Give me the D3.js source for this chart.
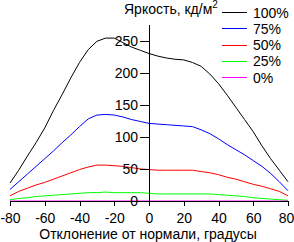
<!DOCTYPE html>
<html>
<head>
<meta charset="utf-8">
<script src="https://cdn.jsdelivr.net/npm/d3@7"></script>
<style>
  body { margin: 0; background: #fff; }
  text { font-family: "Liberation Sans", Arial, sans-serif; }
</style>
</head>
<body>
<div id="chart"></div>
<script>
var svgWidth = 294;
var svgHeight = 242;

// viewing angle, degrees
var angles = [-80, -75, -70, -65, -60, -55, -50, -45, -40, -35, -30, -25, -20, -15, -10, -5,
  0, 5, 10, 15, 20, 25, 30, 35, 40, 45, 50, 55, 60, 65, 70, 75, 80];

// brightness, cd/m2, per level
var b100 = [28, 48, 70, 91, 114, 141, 166, 192, 216, 236, 249, 254, 254, 247, 240, 235,
  230, 226, 223, 221, 220, 216, 210, 198, 183, 165, 146, 127, 108, 86, 66, 48, 30];
var b75 = [18, 30, 42, 54, 66, 78, 91, 103, 116, 128, 134, 135, 134, 131, 127, 124,
  121, 120, 119, 118, 117, 116, 111, 105, 97, 88, 80, 72, 63, 54, 43, 30, 16];
var b50 = [8, 15, 20, 25, 29, 34, 39, 44, 49, 53, 56, 56, 55, 54, 52, 50,
  49, 48, 48, 48, 48, 48, 46, 44, 41, 37, 34, 30, 26, 23, 19, 15, 8];
var b25 = [2, 4, 5, 7, 8, 9, 10, 11, 12, 13, 13, 14, 13, 13, 13, 13,
  12, 11, 11, 11, 11, 11, 11, 11, 10, 9, 8, 7, 5, 4, 3, 2, 1];
var b0 = [0, 0, 0, 0, 0, 0, 0, 0, 0, 0, 0, 0, 0, 0, 0, 0,
  0, 0, 0, 0, 0, 0, 0, 0, 0, 0, 0, 0, 0, 0, 0, 0, 0];

var seriesNames = ["100%", "75%", "50%", "25%", "0%"];
var seriesColors = ["#000000", "#0000ff", "#ff0000", "#00ff00", "#ff00ff"];
var seriesValues = [b100, b75, b50, b25, b0];

var xTicks = [-80, -60, -40, -20, 0, 20, 40, 60, 80];
var yTicks = [0, 50, 100, 150, 200, 250];

var svg = d3.select("#chart")
  .append("svg")
  .attr("width", svgWidth)
  .attr("height", svgHeight);

var x = d3.scaleLinear()
  .domain([-80, 80])
  .range([10, 288]);

var y = d3.scaleLinear()
  .domain([0, 276])
  .range([201, 24]);

var line = d3.line()
  .x(function(d, i) { return x(angles[i]); })
  .y(function(d) { return y(d); });

// curves, drawn under the axes
seriesValues.forEach(function(vals, k) {
  svg.append("path")
    .datum(vals)
    .attr("fill", "none")
    .attr("stroke", seriesColors[k])
    .attr("stroke-width", 1)
    .attr("d", line);
});

// x axis
var xAxis = svg.append("g")
  .attr("transform", "translate(0," + y(0) + ")")
  .attr("shape-rendering", "crispEdges")
  .call(d3.axisBottom(x)
    .tickValues(xTicks)
    .tickSize(5)
    .tickSizeOuter(0)
    .tickPadding(7)
    .tickFormat(function(d) { return String(d); }));

// keep the last label inside the picture
xAxis.selectAll(".tick text")
  .filter(function(d) { return d === 80; })
  .attr("dx", -2);

// y axis sits at zero degrees
var yAxis = svg.append("g")
  .attr("transform", "translate(" + x(0) + ",0)")
  .attr("shape-rendering", "crispEdges")
  .call(d3.axisLeft(y)
    .tickValues(yTicks)
    .tickSize(9)
    .tickSizeOuter(0)
    .tickPadding(2));

svg.selectAll(".tick text")
  .attr("font-size", 14)
  .attr("font-family", "'Liberation Sans', Arial, sans-serif")
  .attr("fill", "#000");
svg.selectAll(".domain, .tick line").attr("stroke", "#000");

// title
var title = svg.append("text")
  .attr("x", 124)
  .attr("y", 14)
  .attr("font-size", 14)
  .attr("fill", "#000")
  .text("Яркость, кд/м");
title.append("tspan")
  .attr("font-size", 10)
  .attr("dy", -6)
  .text("2");

// x label
svg.append("text")
  .attr("x", 148)
  .attr("y", 239)
  .attr("text-anchor", "middle")
  .attr("font-size", 14)
  .attr("fill", "#000")
  .text("Отклонение от нормали, градусы");

// legend
var legend = svg.append("g");
seriesNames.forEach(function(name, k) {
  var ly = 12.5 + k * 16.3;
  legend.append("line")
    .attr("x1", 222)
    .attr("x2", 247)
    .attr("y1", ly)
    .attr("y2", ly)
    .attr("stroke", seriesColors[k])
    .attr("shape-rendering", "crispEdges");
  legend.append("text")
    .attr("x", 253)
    .attr("y", ly + 5)
    .attr("font-size", 14)
    .attr("fill", "#000")
    .text(name);
});
</script>
</body>
</html>
